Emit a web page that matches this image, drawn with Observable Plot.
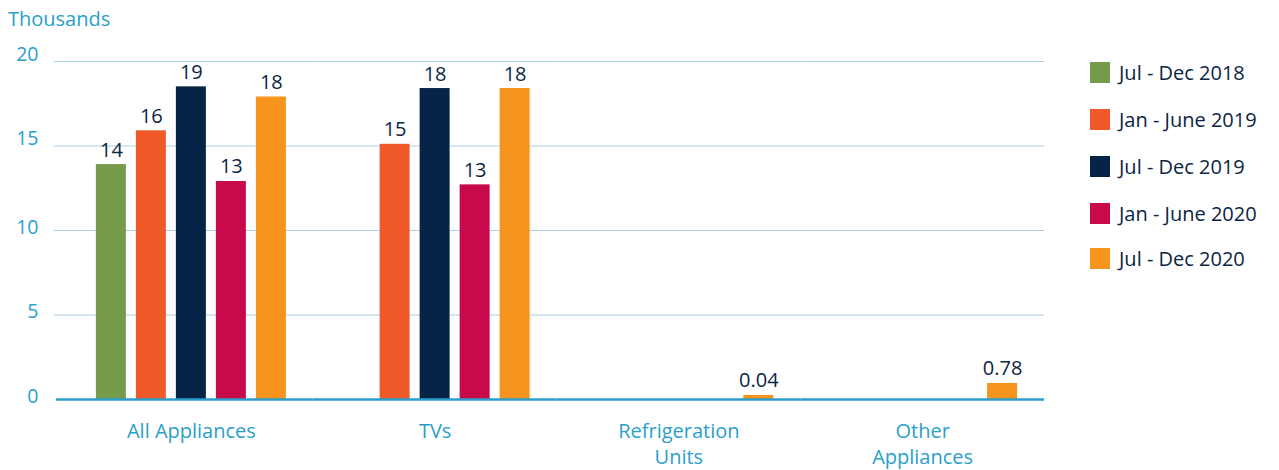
<!DOCTYPE html>
<html>
<head>
<meta charset="utf-8">
<script src="https://cdn.jsdelivr.net/npm/d3@7"></script>
<script src="https://cdn.jsdelivr.net/npm/@observablehq/plot@0.6"></script>
<style>
  html, body { margin: 0; padding: 0; background: #fff; }
  #wrap { position: relative; width: 1279px; height: 470px; font-family: "Open Sans", Lato, sans-serif; }
  #title { position: absolute; left: 8px; top: 5px; font-size: 20px; color: #2a9fcb; }
  #legend { position: absolute; left: 1090px; top: 0; }
  .item { position: absolute; left: 0; display: flex; align-items: center; white-space: nowrap; font-size: 20px; color: #0b2545; }
  .sw { width: 20px; height: 21px; margin-right: 9px; flex: none; }
</style>
</head>
<body>
<div id="wrap">
  <div id="chart"></div>
  <div id="title">Thousands</div>
  <div id="legend"></div>
</div>
<script>
const categories = ["All Appliances", "TVs", "Refrigeration Units", "Other Appliances"];
const categoryTickLabels = ["All Appliances", "TVs", "Refrigeration\nUnits", "Other\nAppliances"];
const periods = ["Jul - Dec 2018", "Jan - June 2019", "Jul - Dec 2019", "Jan - June 2020", "Jul - Dec 2020"];
const colors = ["#769c4b", "#f05a28", "#062546", "#c8094b", "#f7941e"];

// values per period, one entry per category (null = no bar)
const julDec2018 = [13.9, null, null, null];
const janJun2019 = [15.9, 15.1, null, null];
const julDec2019 = [18.5, 18.4, null, null];
const janJun2020 = [12.9, 12.7, null, null];
const julDec2020 = [17.9, 18.4, 0.24, 0.95];

// value labels as printed on the chart
const labelsJulDec2018 = ["14", null, null, null];
const labelsJanJun2019 = ["16", "15", null, null];
const labelsJulDec2019 = ["19", "18", null, null];
const labelsJanJun2020 = ["13", "13", null, null];
const labelsJulDec2020 = ["18", "18", "0.04", "0.78"];

const yTicksUpper = [15, 20];
const yTicksLower = [0, 5, 10];
const gridTicks = [5, 10, 15, 20];

const seriesValues = [julDec2018, janJun2019, julDec2019, janJun2020, julDec2020];
const seriesLabels = [labelsJulDec2018, labelsJanJun2019, labelsJulDec2019, labelsJanJun2020, labelsJulDec2020];

const data = [];
periods.forEach((p, i) => {
  categories.forEach((c, j) => {
    const v = seriesValues[i][j];
    if (v != null) data.push({category: c, period: p, value: v, label: seriesLabels[i][j]});
  });
});

const firstGrid = gridTicks.map(t => ({category: categories[0], y: t}));
const restGrid = categories.slice(1).flatMap(c => gridTicks.map(t => ({category: c, y: t})));
const firstBase = [{category: categories[0], y: 0}];
const restBase = categories.slice(1).map(c => ({category: c, y: 0}));

const blue = "#2a9fcb";
const navy = "#0b2545";
const grid = "#a9cde2";
const font = "'Open Sans', Lato, sans-serif";

const chart = Plot.plot({
  width: 1279,
  height: 470,
  marginLeft: 69,
  marginRight: 235,
  marginTop: 61,
  marginBottom: 71,
  style: {fontFamily: font, fontSize: "20px", background: "#fff"},
  fx: {domain: categories, padding: 0, round: false},
  x: {domain: periods, paddingInner: 0.25, paddingOuter: 0.672, round: false},
  y: {domain: [0, 20]},
  color: {domain: periods, range: colors},
  marks: [
    Plot.ruleY(firstGrid, {fx: "category", y: "y", stroke: grid, strokeWidth: 1.2, insetLeft: -15}),
    Plot.ruleY(restGrid, {fx: "category", y: "y", stroke: grid, strokeWidth: 1.2}),
    Plot.barY(data, {fx: "category", x: "period", y: "value", fill: "period"}),
    Plot.ruleY(firstBase, {fx: "category", y: "y", stroke: blue, strokeWidth: 2.5, insetLeft: -13}),
    Plot.ruleY(restBase, {fx: "category", y: "y", stroke: blue, strokeWidth: 2.5}),
    Plot.text(data, {fx: "category", x: "period", y: "value", text: "label", dy: -8, lineAnchor: "bottom", fill: navy, fontSize: 20}),
    Plot.axisY({ticks: yTicksUpper, tickSize: 0, tickPadding: 31, color: blue, label: null, dy: -7, fontSize: 19.5}),
    Plot.axisY({ticks: yTicksLower, tickSize: 0, tickPadding: 31, color: blue, label: null, dy: -3, fontSize: 19.5}),
    Plot.axisFx({anchor: "bottom", tickSize: 0, tickPadding: 20, color: blue, label: null, fontSize: 20, lineHeight: 1.3,
      tickFormat: d => categoryTickLabels[categories.indexOf(d)]}),
    Plot.axisX({ticks: [], label: null})
  ]
});
document.getElementById("chart").appendChild(chart);

const legend = document.getElementById("legend");
const legendCenters = [72, 119, 166, 213, 258];
periods.forEach((p, i) => {
  const item = document.createElement("div");
  item.className = "item";
  item.style.top = (legendCenters[i] - 12) + "px";
  item.style.height = "24px";
  const sw = document.createElement("div");
  sw.className = "sw";
  sw.style.background = colors[i];
  const t = document.createElement("span");
  t.textContent = p;
  item.appendChild(sw);
  item.appendChild(t);
  legend.appendChild(item);
});
</script>
</body>
</html>
